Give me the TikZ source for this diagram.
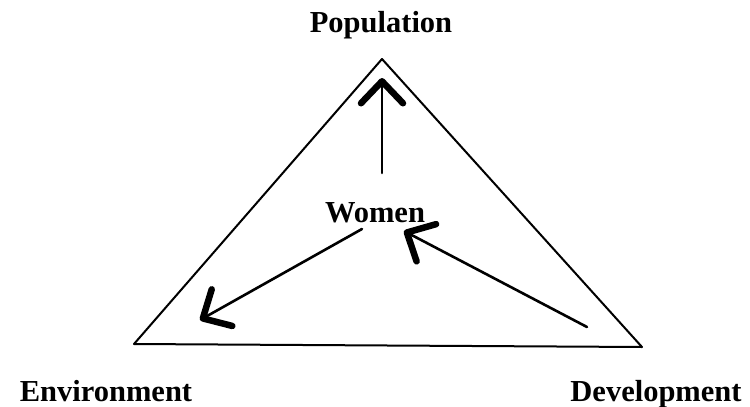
\documentclass[tikz,border=0pt]{standalone}
\usepackage{fontspec}
\setmainfont{Liberation Serif}
\usetikzlibrary{arrows.meta}
\tikzset{lbl/.style={font=\fontsize{30.5}{36}\selectfont\bfseries, inner sep=0pt, anchor=base},
  hand/.style={line width=2.6pt, -{Straight Barb[length=22pt,width=42pt,line width=6.5pt,round]}}}

\begin{document}
\begin{tikzpicture}[x=1pt, y=-1pt, line cap=round, line join=round]
\useasboundingbox (0,0) rectangle (750,407);
% 三角形
\coordinate (P) at (382,59);
\coordinate (E) at (134,344);
\coordinate (D) at (642,347);
\draw[line width=2pt] (P) -- (E) -- (D) -- cycle;
% 标注
\node[lbl] (pop) at (381,32) {Population};
\node[lbl] (env) at (106,401) {Environment};
\node[lbl] (dev) at (656,401) {Development};
\node[lbl] (wom) at (375,222) {Women};
% 箭头
\coordinate (up0) at (382,173);
\coordinate (up1) at (382,78);
\draw[hand] (up0) -- (up1);
\coordinate (lf0) at (362,229);
\coordinate (lf1) at (200,320);
\draw[hand] (lf0) -- (lf1);
\coordinate (rt0) at (587,327);
\coordinate (rt1) at (404,231);
\draw[hand] (rt0) -- (rt1);
\end{tikzpicture}
\end{document}
